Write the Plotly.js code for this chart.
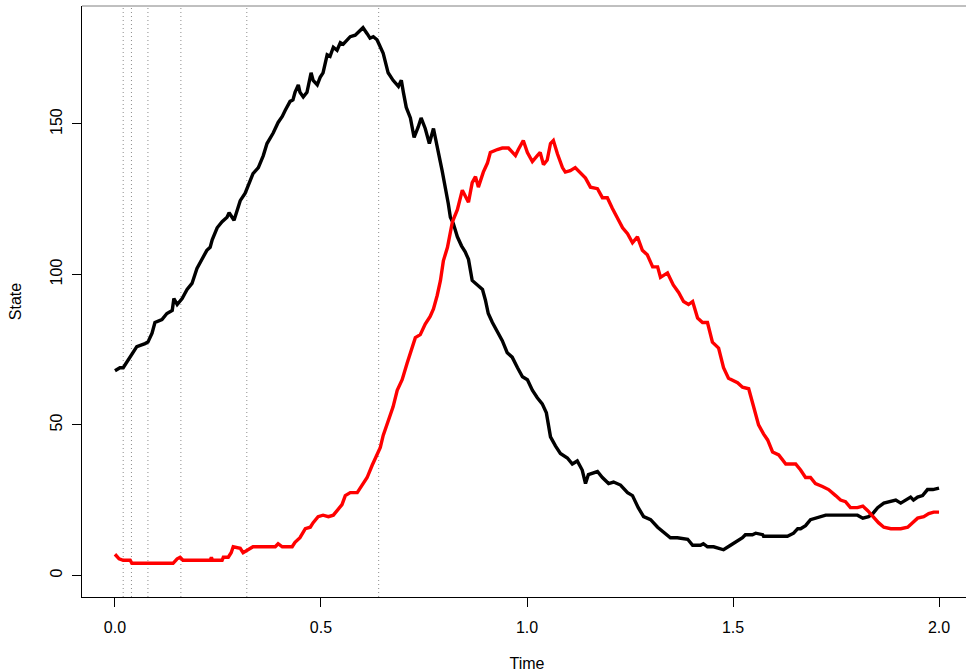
<!DOCTYPE html>
<html>
<head>
<meta charset="utf-8">
<script src="https://cdn.plot.ly/plotly-3.0.1.min.js"></script>
<style>
html, body { margin:0; padding:0; overflow:hidden; background:#fff; }
#chart { width:976px; height:672px; }
</style>
</head>
<body>
<div id="chart"></div>
<script>
// Black series (time, state)
const blackTime = [0, 0.012, 0.020, 0.032, 0.044, 0.053, 0.073, 0.080, 0.090, 0.097,
 0.114, 0.126, 0.139, 0.143, 0.151, 0.163, 0.175, 0.187, 0.199, 0.211,
 0.223, 0.231, 0.236, 0.248, 0.260, 0.272, 0.277, 0.289, 0.304, 0.316,
 0.323, 0.335, 0.348, 0.360, 0.369, 0.384, 0.396, 0.406, 0.413, 0.425,
 0.432, 0.437, 0.445, 0.449, 0.457, 0.466, 0.476, 0.481, 0.491, 0.498,
 0.505, 0.515, 0.522, 0.530, 0.539, 0.547, 0.554, 0.564, 0.571, 0.583,
 0.590, 0.602, 0.612, 0.619, 0.627, 0.636, 0.641, 0.651, 0.663, 0.675,
 0.688, 0.695, 0.700, 0.707, 0.717, 0.726, 0.736, 0.743, 0.753, 0.763,
 0.773, 0.780, 0.785, 0.794, 0.802, 0.809, 0.814, 0.821, 0.831, 0.841,
 0.850, 0.858, 0.867, 0.879, 0.892, 0.899, 0.906, 0.916, 0.928, 0.940,
 0.952, 0.964, 0.977, 0.989, 1.001, 1.013, 1.025, 1.037, 1.047, 1.057,
 1.069, 1.081, 1.098, 1.110, 1.122, 1.134, 1.142, 1.149, 1.171, 1.183,
 1.198, 1.210, 1.227, 1.244, 1.256, 1.270, 1.283, 1.300, 1.317, 1.331,
 1.348, 1.365, 1.390, 1.402, 1.421, 1.428, 1.438, 1.453, 1.477, 1.494,
 1.511, 1.523, 1.530, 1.547, 1.555, 1.572, 1.574, 1.599, 1.632, 1.647,
 1.657, 1.664, 1.676, 1.688, 1.700, 1.713, 1.725, 1.761, 1.802, 1.815,
 1.829, 1.839, 1.851, 1.866, 1.883, 1.895, 1.907, 1.919, 1.931, 1.938,
 1.948, 1.960, 1.972, 1.985, 2.000];
const blackState = [68, 69, 69, 71.5, 74, 76, 77, 77.5, 80.5, 84,
 85, 87, 88, 92, 90, 92, 95, 97, 102, 105,
 108, 109, 111.5, 115.5, 117.5, 119, 120.5, 118, 124.5, 127,
 129.5, 133.5, 135.5, 139.5, 143.5, 147, 150.5, 152.5, 154.5, 157.5,
 158, 160.5, 163, 160.5, 159, 160.5, 167, 164.5, 163, 165.5,
 167, 173, 172.5, 175.5, 174.5, 177, 176.5, 178, 179, 179.5,
 180.5, 182, 180, 178.5, 179, 178, 176.5, 173.5, 167, 164.5,
 162.5, 164.5, 160.5, 155.5, 152, 145.5, 149, 152, 148.5, 143.5,
 148.5, 144.5, 140.5, 134.5, 129, 123.5, 119, 117, 112.5, 109.5,
 107.5, 105, 98, 96.5, 95, 91.5, 87, 84, 81, 78,
 74, 72.5, 69, 66, 65, 61.5, 59, 57, 54, 46,
 43, 40.5, 39, 37, 38, 35, 30.5, 33.5, 34.5, 32.5,
 30.5, 31, 30, 27.5, 26.5, 22.5, 19.5, 18.5, 16, 14.5,
 12.5, 12.5, 12, 10, 10, 10.5, 9.5, 9.5, 8.5, 10,
 11.5, 12.5, 13.5, 13.5, 14, 13.5, 13, 13, 13, 14,
 15.5, 15.5, 16.5, 18.5, 19, 19.5, 20, 20, 20, 19,
 19.5, 20.5, 22.5, 24, 24.5, 25, 24, 25, 26, 25,
 26, 26.5, 28.5, 28.5, 29];

// Red series (time, state)
const redTime = [0, 0.010, 0.020, 0.037, 0.041, 0.141, 0.151, 0.158, 0.165, 0.231,
 0.234, 0.237, 0.260, 0.263, 0.275, 0.282, 0.287, 0.304, 0.311, 0.323,
 0.335, 0.389, 0.396, 0.406, 0.430, 0.437, 0.449, 0.462, 0.474, 0.481,
 0.493, 0.505, 0.518, 0.530, 0.539, 0.551, 0.559, 0.571, 0.588, 0.600,
 0.612, 0.624, 0.636, 0.644, 0.651, 0.663, 0.675, 0.685, 0.697, 0.709,
 0.722, 0.729, 0.741, 0.753, 0.765, 0.773, 0.782, 0.790, 0.797, 0.807,
 0.819, 0.831, 0.843, 0.853, 0.858, 0.867, 0.875, 0.882, 0.894, 0.904,
 0.911, 0.928, 0.940, 0.955, 0.972, 0.979, 0.991, 1.001, 1.013, 1.025,
 1.032, 1.040, 1.049, 1.057, 1.064, 1.074, 1.086, 1.093, 1.105, 1.117,
 1.130, 1.142, 1.154, 1.171, 1.183, 1.195, 1.207, 1.220, 1.232, 1.244,
 1.256, 1.268, 1.280, 1.292, 1.305, 1.317, 1.324, 1.341, 1.355, 1.368,
 1.380, 1.392, 1.402, 1.414, 1.426, 1.438, 1.450, 1.465, 1.477, 1.489,
 1.511, 1.523, 1.538, 1.550, 1.562, 1.574, 1.584, 1.596, 1.611, 1.628,
 1.652, 1.664, 1.676, 1.688, 1.700, 1.717, 1.732, 1.749, 1.761, 1.773,
 1.785, 1.802, 1.815, 1.827, 1.839, 1.853, 1.866, 1.883, 1.895, 1.907,
 1.924, 1.936, 1.948, 1.963, 1.975, 1.987, 2.000];
const redState = [7, 5.5, 5, 5, 4, 4, 5.5, 6, 5, 5,
 6, 5, 5, 6, 6, 7.5, 9.5, 9, 7.5, 8.5,
 9.5, 9.5, 10.5, 9.5, 9.5, 11, 12.5, 15.5, 16, 17.5,
 19.5, 20, 19.5, 20, 21.5, 23.5, 26.5, 27.5, 27.5, 30,
 32.5, 36.5, 40, 42.5, 46.5, 51.5, 56, 61.5, 65, 70.5,
 75.5, 79, 80, 83.5, 86, 88.5, 93, 98, 104.5, 109,
 117.5, 121.5, 128, 125.5, 124, 130.5, 132.5, 129, 134, 137,
 140.5, 141.5, 142, 142, 139.5, 141.5, 144.5, 140.5, 137.5, 139.5,
 140.5, 136.5, 138, 143.5, 144.5, 140, 135.5, 134, 134.5, 135.5,
 133.5, 132, 129, 128.5, 125.5, 125.5, 122, 118.5, 115.5, 113.5,
 110.5, 112.5, 108, 106.5, 102.5, 102.5, 99, 100.5, 96.5, 94,
 91, 90, 91, 85.5, 84, 84, 77.5, 75.5, 69, 65.5,
 64, 62.5, 62, 56, 50, 47, 45, 41, 40, 37,
 37, 35, 32.5, 32.5, 30.5, 29.5, 28.5, 26.5, 25, 24.5,
 22.5, 22.5, 23, 21.5, 19.5, 17.5, 16, 15.5, 15.5, 15.5,
 16, 17.5, 19, 19.5, 20.5, 21, 21];

// Vertical reference times (dotted)
const markTimes = [0.02, 0.04, 0.08, 0.16, 0.32, 0.64];

const xTicks = [0, 0.5, 1, 1.5, 2];
const xTickText = ['0.0', '0.5', '1.0', '1.5', '2.0'];
const yTicks = [0, 50, 100, 150];
const yTickText = ['0', '50', '100', '150'];

const font = {family: 'Liberation Sans, Arial, Helvetica, sans-serif', size: 16, color: '#000'};

const traces = [
  {x: blackTime, y: blackState, type: 'scatter', mode: 'lines',
   line: {color: '#000000', width: 3.4}, hoverinfo: 'skip', showlegend: false},
  {x: redTime, y: redState, type: 'scatter', mode: 'lines',
   line: {color: '#ff0000', width: 3.4}, hoverinfo: 'skip', showlegend: false}
];

const shapes = markTimes.map(t => ({
  type: 'line', xref: 'x', yref: 'paper', x0: t, x1: t, y0: 0, y1: 1,
  line: {color: '#8c8c8c', width: 1, dash: '1px,3px'}, layer: 'below'
}));
shapes.push({type: 'line', xref: 'paper', yref: 'paper', x0: 0, x1: 1, y0: 1, y1: 1,
  line: {color: '#808080', width: 1}});

const layout = {
  width: 976, height: 672,
  margin: {l: 82, r: 4, t: 6, b: 75},
  paper_bgcolor: '#ffffff', plot_bgcolor: '#ffffff',
  font: font,
  showlegend: false,
  xaxis: {
    range: [-0.08, 2.08], tickvals: xTicks, ticktext: xTickText,
    showgrid: false, zeroline: false, showline: true, linecolor: '#000', linewidth: 1,
    ticks: 'outside', ticklen: 9, tickcolor: '#000', tickwidth: 1,
    tickfont: font, ticklabelstandoff: 7,
    title: {text: 'Time', font: font, standoff: 23}
  },
  yaxis: {
    range: [-7.2, 189.2], tickvals: yTicks, ticktext: yTickText,
    showgrid: false, zeroline: false, showline: true, linecolor: '#000', linewidth: 1,
    ticks: 'outside', ticklen: 9, tickcolor: '#000', tickwidth: 1,
    tickangle: -90, tickfont: font, ticklabelstandoff: 4,
    title: {text: 'State', font: font, standoff: 21}
  },
  shapes: shapes
};

Plotly.newPlot('chart', traces, layout, {staticPlot: true, displayModeBar: false});
</script>
</body>
</html>
